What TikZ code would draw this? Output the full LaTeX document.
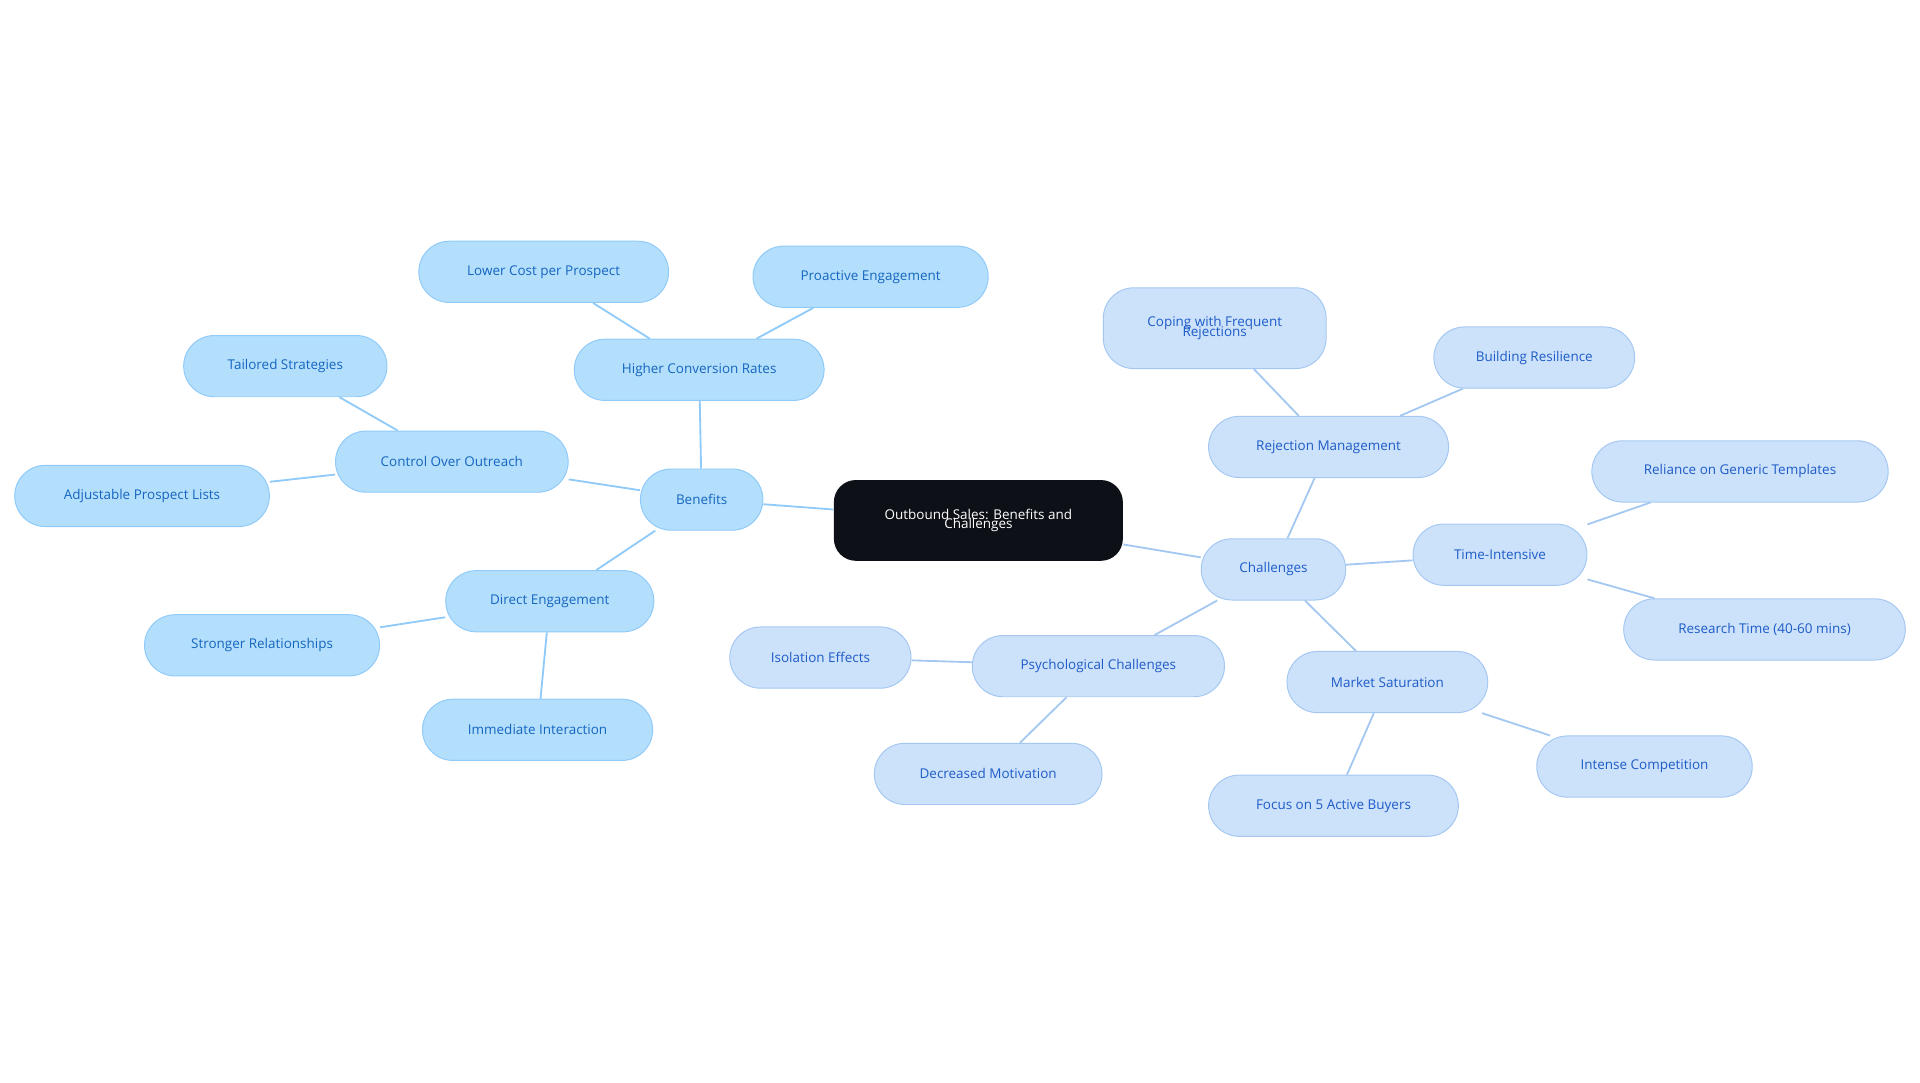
\documentclass[tikz,border=0pt]{standalone}
\usepackage{fontspec}
\setmainfont{Open Sans}
\definecolor{bfill}{HTML}{B3DFFC}
\definecolor{bdraw}{HTML}{90CAF9}
\definecolor{btext}{HTML}{1565C0}
\definecolor{cfill}{HTML}{CCE1FA}
\definecolor{cdraw}{HTML}{A5C8F2}
\definecolor{ctext}{HTML}{1E5CC8}
\definecolor{dark}{HTML}{0D1117}
\begin{document}
\begin{tikzpicture}[x=1pt,y=-1pt,
 base/.style={rectangle,rounded corners=25pt,minimum height=50pt,font=\fontsize{11}{11}\selectfont,align=center,line width=0.8pt,inner sep=2pt},
 bn/.style={base,fill=bfill,draw=bdraw,text=btext},
 cn/.style={base,fill=cfill,draw=cdraw,text=ctext},
 bl/.style={draw=bdraw,line width=1.5pt},
 cl/.style={draw=cdraw,line width=1.5pt}]
\useasboundingbox (0,0) rectangle (1568,884);
\node[base,fill=dark,text=white,minimum width=236pt,minimum height=66pt,rounded corners=18pt] (root) at (799,425) {Outbound Sales: Benefits and\\[-3pt]Challenges};
\node[bn,minimum width=100pt] (ben) at (573,408) {Benefits};
\node[bn,minimum width=204pt] (hcr) at (571,302) {Higher Conversion Rates};
\node[bn,minimum width=204pt] (lcp) at (444,222) {Lower Cost per Prospect};
\node[bn,minimum width=192pt] (pe) at (711,226) {Proactive Engagement};
\node[bn,minimum width=190pt] (coo) at (369,377) {Control Over Outreach};
\node[bn,minimum width=166pt] (ts) at (233,299) {Tailored Strategies};
\node[bn,minimum width=208pt] (apl) at (116,405) {Adjustable Prospect Lists};
\node[bn,minimum width=170pt] (de) at (449,491) {Direct Engagement};
\node[bn,minimum width=192pt] (sr) at (214,527) {Stronger Relationships};
\node[bn,minimum width=188pt] (ii) at (439,596) {Immediate Interaction};
\node[cn,minimum width=118pt] (ch) at (1040,465) {Challenges};
\node[cn,minimum width=196pt] (rm) at (1085,365) {Rejection Management};
\node[cn,minimum width=182pt,minimum height=66pt] (cfr) at (992,268) {Coping with Frequent\\[-3pt]Rejections};
\node[cn,minimum width=164pt] (br) at (1253,292) {Building Resilience};
\node[cn,minimum width=142pt] (ti) at (1225,453) {Time-Intensive};
\node[cn,minimum width=242pt] (rgt) at (1421,385) {Reliance on Generic Templates};
\node[cn,minimum width=230pt] (rt) at (1441,514) {Research Time (40-60 mins)};
\node[cn,minimum width=164pt] (ms) at (1133,557) {Market Saturation};
\node[cn,minimum width=176pt] (ic) at (1343,626) {Intense Competition};
\node[cn,minimum width=204pt] (fab) at (1089,658) {Focus on 5 Active Buyers};
\node[cn,minimum width=206pt] (pc) at (897,544) {Psychological Challenges};
\node[cn,minimum width=148pt] (ie) at (670,537) {Isolation Effects};
\node[cn,minimum width=186pt] (dm) at (807,632) {Decreased Motivation};
\begin{scope}[on background layer/.try]
\end{scope}
\draw[bl] (root)--(ben); \draw[bl] (ben)--(hcr); \draw[bl] (hcr)--(lcp); \draw[bl] (hcr)--(pe);
\draw[bl] (ben)--(coo); \draw[bl] (coo)--(ts); \draw[bl] (coo)--(apl);
\draw[bl] (ben)--(de); \draw[bl] (de)--(sr); \draw[bl] (de)--(ii);
\draw[cl] (root)--(ch); \draw[cl] (ch)--(rm); \draw[cl] (rm)--(cfr); \draw[cl] (rm)--(br);
\draw[cl] (ch)--(ti); \draw[cl] (ti)--(rgt); \draw[cl] (ti)--(rt);
\draw[cl] (ch)--(ms); \draw[cl] (ms)--(ic); \draw[cl] (ms)--(fab);
\draw[cl] (ch)--(pc); \draw[cl] (pc)--(ie); \draw[cl] (pc)--(dm);
\end{tikzpicture}
\end{document}
